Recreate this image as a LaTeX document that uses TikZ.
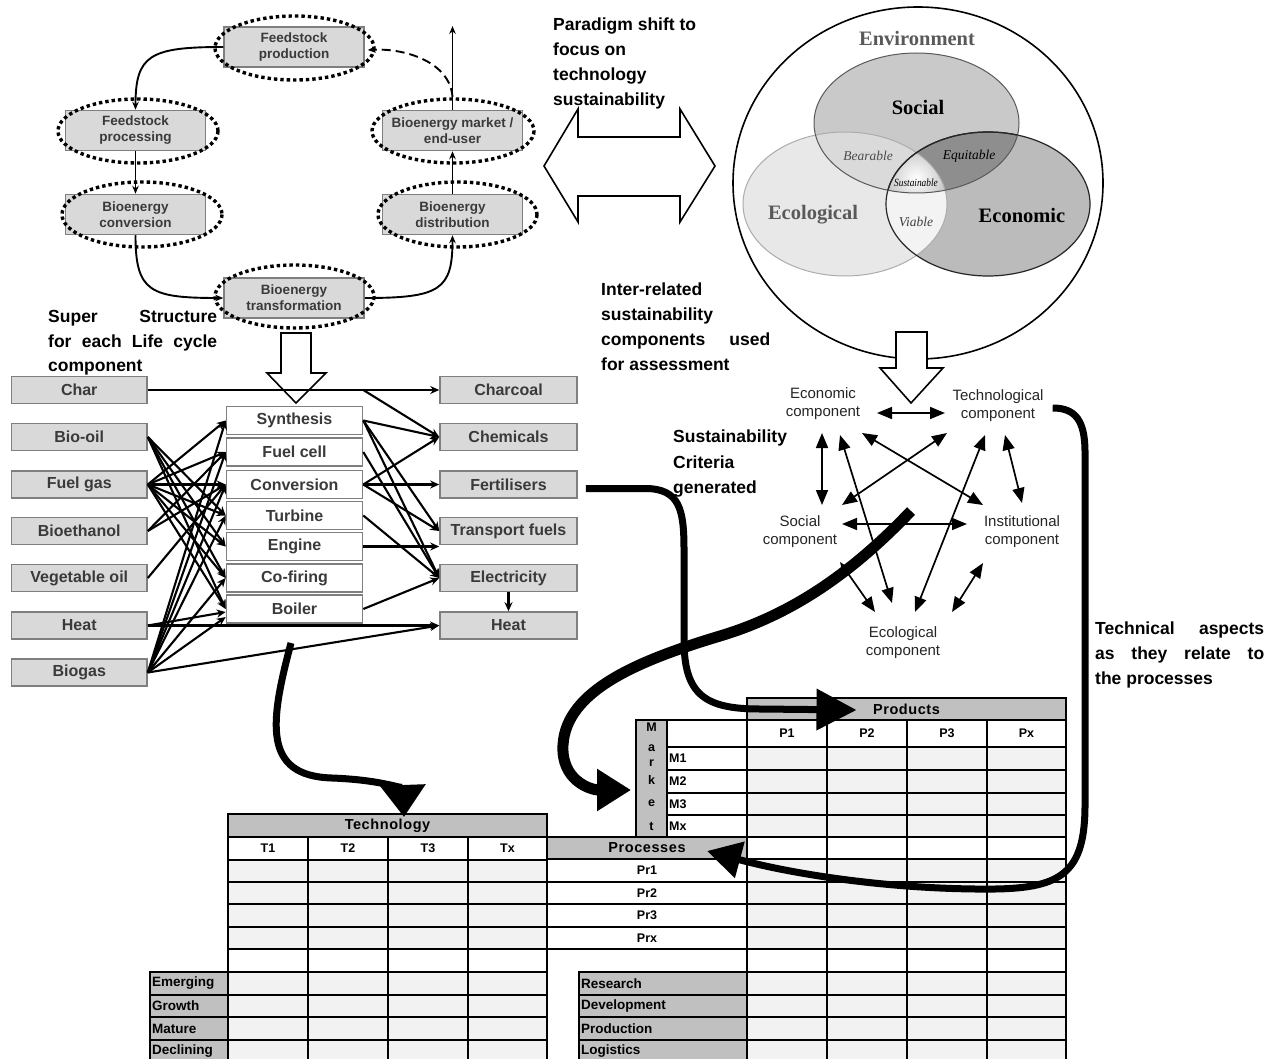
\documentclass[tikz,border=0pt]{standalone}
\usepackage{fontspec}
\setmainfont{Liberation Sans}
\newfontfamily\vennfont{Liberation Serif}
\usetikzlibrary{arrows.meta,calc}
\definecolor{boxgrey}{HTML}{D9D9D9}
\definecolor{edgegrey}{HTML}{7F7F7F}
\definecolor{hdrgrey}{HTML}{C0C0C0}
\definecolor{cellgrey}{HTML}{F2F2F2}
\definecolor{txtgrey}{HTML}{3A3A3A}
\definecolor{socfill}{HTML}{C9C9C9}
\definecolor{ecolfill}{HTML}{E8E8E8}
\definecolor{econfill}{HTML}{BBBBBB}
\definecolor{equifill}{HTML}{8E8E8E}
\definecolor{bearfill}{HTML}{DADADA}
\definecolor{viafill}{HTML}{F3F3F3}
\begin{document}
\begin{tikzpicture}[x=1pt,y=-1pt,
 lcbox/.style={draw=edgegrey, fill=boxgrey, line width=1.5pt, minimum width=140pt, minimum height=40pt, inner sep=0pt, align=center, text=txtgrey, font=\fontsize{13.5}{16}\selectfont\bfseries},
 lcdots/.style={line width=3.4pt, dash pattern=on 3.4pt off 3pt},
 lcarrow/.style={line width=1.9pt, -{Stealth[length=8pt,width=6.5pt]}},
 flowbox/.style={draw=edgegrey, fill=boxgrey, line width=1.6pt, minimum height=27pt, inner sep=0pt, text=txtgrey, font=\fontsize{16}{18}\selectfont\bfseries},
 inbox/.style={flowbox, minimum width=135.5pt},
 outbox/.style={flowbox, minimum width=137pt},
 techbox/.style={flowbox, fill=white, minimum width=136pt, minimum height=28pt},
 fan/.style={line width=2.1pt, -{Stealth[length=9pt,width=8pt]}},
 anno/.style={anchor=base west, inner sep=0pt, font=\fontsize{17.5}{21}\selectfont\bfseries},
 comp/.style={align=center, inner sep=0pt, text=black!85, font=\fontsize{15}{18}\selectfont},
 dbl/.style={line width=1.7pt, {Triangle[length=15pt,width=12pt]}-{Triangle[length=15pt,width=12pt]}},
 hollow/.style={draw=black, fill=white, line width=1.6pt, line join=miter},
 bigarrow/.style={line width=7pt, line cap=butt},
 tbl/.style={draw=black, line width=1.9pt},
 tblhdr/.style={inner sep=0pt, font=\fontsize{14.5}{16}\selectfont\bfseries\addfontfeatures{LetterSpace=4}},
 tblsub/.style={inner sep=0pt, font=\fontsize{12.5}{14}\selectfont\bfseries},
 rowlab/.style={anchor=west, inner sep=0pt, font=\fontsize{13.5}{15}\selectfont\bfseries},
 vennlab/.style={inner sep=0pt, font=\vennfont\fontsize{20.5}{22}\selectfont\bfseries},
 vennit/.style={inner sep=0pt, font=\vennfont\fontsize{13.5}{15}\selectfont\itshape},
]
\useasboundingbox (0,0) rectangle (1268,1059);
\fill[white] (0,0) rectangle (1268,1059);

%================ Life cycle =================
\node[lcbox] (fp) at (294,47) {Feedstock\\production};
\node[lcbox] (fproc) at (135.5,130.5) {Feedstock\\processing};
\node[lcbox] (bconv) at (135.5,214.5) {Bioenergy\\conversion};
\node[lcbox] (btrans) at (294,298) {Bioenergy\\transformation};
\node[lcbox] (bmark) at (452.5,130.5) {Bioenergy market /\\end-user};
\node[lcbox] (bdist) at (452.5,214.5) {Bioenergy\\distribution};
\draw[lcdots] (294.5,48) ellipse [x radius=79.5, y radius=32];
\draw[lcdots] (138,131) ellipse [x radius=80, y radius=32];
\draw[lcdots] (142,214.5) ellipse [x radius=80, y radius=32.5];
\draw[lcdots] (294.5,296.5) ellipse [x radius=79.5, y radius=31.5];
\draw[lcdots] (453,131) ellipse [x radius=81, y radius=32];
\draw[lcdots] (457.5,214.5) ellipse [x radius=79.5, y radius=32.5];
\draw[lcarrow] (fp.west) .. controls (150,47) and (135.5,55) .. (fproc.north);
\draw[lcarrow] (fproc.south) -- (bconv.north);
\draw[lcarrow] (bconv.south) .. controls (135.5,292) and (150,298) .. (btrans.west);
\draw[lcarrow] (btrans.east) .. controls (440,298) and (452.5,290) .. (bdist.south);
\draw[lcarrow] (bdist.north) -- (bmark.south);
\coordinate (mtop) at (452.5,26);
\draw[lcarrow] (bmark.north) -- (mtop);
\coordinate (dsplit) at (452.5,97);
\draw[lcarrow, dash pattern=on 9pt off 5pt] (dsplit) .. controls (450,62) and (405,48) .. ($(fp.east)+(3,3)$);

%================ annotations =================
\node[anno] (ss1) at (48,322) {\makebox[169pt][s]{Super Structure}};
\node[anno] (ss2) at (48,347) {\makebox[169pt][s]{for each Life cycle}};
\node[anno] (ss3) at (48,371) {component};
\node[anno] (ps1) at (553,31) {Paradigm shift to};
\node[anno] (ps2) at (553,56) {focus on};
\node[anno] (ps3) at (553,81) {technology};
\node[anno] (ps4) at (553,106) {sustainability};
\node[anno] (ir1) at (601,295) {Inter-related};
\node[anno] (ir2) at (601,320) {sustainability};
\node[anno] (ir3) at (601,345) {\makebox[169pt][s]{components used}};
\node[anno] (ir4) at (601,370) {for assessment};
\node[anno] (sc1) at (673,442) {Sustainability};
\node[anno] (sc2) at (673,468) {Criteria};
\node[anno] (sc3) at (673,493) {generated};
\node[anno] (ta1) at (1095,634) {\makebox[169pt][s]{Technical aspects}};
\node[anno] (ta2) at (1095,659) {\makebox[169pt][s]{as they relate to}};
\node[anno] (ta3) at (1095,684) {the processes};

% paradigm double hollow arrow
\draw[hollow] (544,166) -- (578,109) -- (578,137) -- (680,137) -- (680,109) -- (715,166) -- (680,222) -- (680,196) -- (578,196) -- (578,222) -- cycle;

%================ Venn =================
\draw[line width=1.6pt] (918,183) ellipse [x radius=185, y radius=176];
\fill[ecolfill] (845,204) ellipse [x radius=102, y radius=72];
\fill[econfill] (988,204) ellipse [x radius=102, y radius=72];
\fill[socfill] (916.5,123) ellipse [x radius=102.5, y radius=70];
\begin{scope}
 \clip (916.5,123) ellipse [x radius=102.5, y radius=70];
 \fill[bearfill] (845,204) ellipse [x radius=102, y radius=72];
 \fill[equifill] (988,204) ellipse [x radius=102, y radius=72];
\end{scope}
\begin{scope}
 \clip (845,204) ellipse [x radius=102, y radius=72];
 \fill[viafill] (988,204) ellipse [x radius=102, y radius=72];
 \clip (916.5,123) ellipse [x radius=102.5, y radius=70];
 \clip (988,204) ellipse [x radius=102, y radius=72];
 \shade[inner color=white, outer color=gray!85] (916,178) circle [radius=58];
\end{scope}
\draw[gray!65, line width=1pt] (845,204) ellipse [x radius=102, y radius=72];
\draw[black!85, line width=1.2pt] (988,204) ellipse [x radius=102, y radius=72];
\draw[black!65, line width=1pt] (916.5,123) ellipse [x radius=102.5, y radius=70];
\begin{scope}
 \clip (916.5,123) ellipse [x radius=102.5, y radius=70];
 \draw[black!85, line width=1.2pt] (988,204) ellipse [x radius=102, y radius=72];
\end{scope}
\node[vennlab, text=black!65] (venv) at (917,38) {Environment};
\node[vennlab, text=black] (vsoc) at (918,107) {Social};
\node[vennlab, text=black!65] (vecol) at (813,215) {Ecological};
\node[vennlab, text=black] (vecon) at (1022,215) {Economic};
\node[vennit, text=black!70] (vbear) at (868,156) {Bearable};
\node[vennit, text=black] (vequi) at (969,156) {Equitable};
\node[vennit, text=black, font=\vennfont\fontsize{11}{12}\selectfont\itshape, xscale=0.85] (vsust) at (916,183) {Sustainable};
\node[vennit, text=black!75] (vvia) at (916,222) {Viable};

% hollow down arrows
\draw[hollow] (896,332) -- (927,332) -- (927,368) -- (943,368) -- (911,403) -- (880,368) -- (896,368) -- cycle;
\draw[hollow] (281,333) -- (311,333) -- (311,373) -- (326,373) -- (296,403) -- (267,373) -- (281,373) -- cycle;

%================ flow network =================
\node[inbox] (inchar) at (79.25,390) {Char};
\node[inbox] (inbio) at (79.25,437) {Bio-oil};
\node[inbox] (infuel) at (79.25,484.5) {Fuel gas};
\node[inbox] (ineth) at (79.25,531) {Bioethanol};
\node[inbox] (inveg) at (79.25,578) {Vegetable oil};
\node[inbox] (inheat) at (79.25,625.5) {Heat};
\node[inbox] (inbiogas) at (79.25,672.5) {Biogas};

\node[techbox] (tsyn) at (294.5,420.5) {Synthesis};
\node[techbox] (tfc) at (294.5,452) {Fuel cell};
\node[techbox] (tconv) at (294.5,484.5) {Conversion};
\node[techbox] (ttur) at (294.5,515.5) {Turbine};
\node[techbox] (teng) at (294.5,546.5) {Engine};
\node[techbox] (tcof) at (294.5,578) {Co-firing};
\node[techbox] (tboi) at (294.5,609) {Boiler};

\node[outbox] (ochar) at (508.5,390) {Charcoal};
\node[outbox] (ochem) at (508.5,437) {Chemicals};
\node[outbox] (ofert) at (508.5,484.5) {Fertilisers};
\node[outbox] (otrans) at (508.5,531) {Transport fuels};
\node[outbox] (oelec) at (508.5,578) {Electricity};
\node[outbox] (oheat) at (508.5,625.5) {Heat};

% inputs -> technologies
\foreach \t in {ttur,teng,tcof,tboi} \draw[fan] (inbio.east) -- (\t.west);
\foreach \t in {tsyn,tfc,tconv,ttur,teng,tcof,tboi} \draw[fan] (infuel.east) -- (\t.west);
\foreach \t in {tfc,tconv} \draw[fan] (ineth.east) -- (\t.west);
\draw[fan] (inveg.east) -- (tconv.west);
\draw[fan] (inheat.east) -- ($(tboi.west)+(0,3)$);
\foreach \t in {tsyn,tfc,tconv,ttur,tcof} \draw[fan] (inbiogas.east) -- (\t.west);
\draw[fan] (inbiogas.east) -- ($(tboi.west)+(0,8)$);
% technologies -> products
\draw[fan] (inchar.east) -- (ochar.west);
\draw[fan] (tsyn.east |- inchar.east) -- (ochem.west);
\foreach \o in {ochem,otrans,oelec} \draw[fan] (tsyn.east) -- (\o.west);
\draw[fan] (tfc.east) -- (oelec.west);
\foreach \o in {ochem,ofert,otrans} \draw[fan] (tconv.east) -- (\o.west);
\draw[fan] (ttur.east) -- (oelec.west);
\draw[fan] (teng.east) -- (teng.east -| oelec.west);
\draw[fan] (tboi.east) -- (oelec.west);
\draw[fan] (oelec.south) -- (oheat.north);
\draw[fan] (inheat.east) -- (oheat.west);
\draw[fan] (inbiogas.east) -- (oheat.west);

%================ sustainability components =================
\node[comp] (cecon) at (823,404) {Economic\\component};
\node[comp] (ctech) at (998,406) {Technological\\component};
\node[comp] (csoc) at (800,532) {Social\\component};
\node[comp] (cinst) at (1022,532) {Institutional\\component};
\node[comp] (cecol) at (903,643) {Ecological\\component};
\draw[dbl] ($(cecon)+(54,9)$) -- ($(ctech)+(-53,7)$);
\draw[dbl] ($(cecon)+(-1,29)$) -- ($(csoc)+(22,-27)$);
\draw[dbl] ($(cecon)+(17,31)$) -- ($(cecol)+(-11,-40)$);
\draw[dbl] ($(cecon)+(39,29)$) -- ($(cinst)+(-39,-27)$);
\draw[dbl] ($(ctech)+(-51,27)$) -- ($(csoc)+(42,-27)$);
\draw[dbl] ($(ctech)+(-13,29)$) -- ($(cecol)+(12,-31)$);
\draw[dbl] ($(ctech)+(7,29)$) -- ($(cinst)+(0,-29)$);
\draw[dbl] ($(csoc)+(42,-8)$) -- ($(cinst)+(-55,-8)$);
\draw[dbl] ($(csoc)+(40,30)$) -- ($(cecol)+(-28,-31)$);
\draw[dbl] ($(cinst)+(-39,31)$) -- ($(cecol)+(49,-31)$);

%================ Technology table =================
\filldraw[fill=hdrgrey,tbl] (228,814) rectangle (547,837);
\node[tblhdr] (techhdr) at (387.5,825.5) {Technology};
\foreach \xa/\xb/\lab [count=\i] in {228/308/T1,308/388/T2,388/468/T3,468/547/Tx} {
  \filldraw[fill=white,tbl] (\xa,837) rectangle (\xb,860);
  \node[tblsub] (tcol\i) at ({(\xa+\xb)/2},848.5) {\lab};
  \foreach \ya/\yb in {860/882,882/904,904/927,927/949,972/995,995/1017,1017/1040,1040/1062}
    \filldraw[fill=cellgrey,tbl] (\xa,\ya) rectangle (\xb,\yb);
  \filldraw[fill=white,tbl] (\xa,949) rectangle (\xb,972);
}
\foreach \ya/\yb/\lab [count=\i] in {972/995/Emerging,995/1017/Growth,1017/1040/Mature,1040/1062/Declining} {
  \filldraw[fill=hdrgrey,tbl] (150,\ya) rectangle (228,\yb);
  \node[rowlab] (stage\i) at (152,{(\ya+\yb)/2}) {\lab};
}
% Processes
\filldraw[fill=hdrgrey,tbl] (547,837) rectangle (747,859);
\node[tblhdr] (prochdr) at (647,848) {Processes};
\foreach \ya/\yb/\lab [count=\i] in {859/882/Pr1,882/904/Pr2,904/927/Pr3,927/949/Prx} {
  \filldraw[fill=white,tbl] (547,\ya) rectangle (747,\yb);
  \node[tblsub] (pr\i) at (647,{(\ya+\yb)/2}) {\lab};
}
\draw[tbl] (547,949) -- (547,1062);
\foreach \ya/\yb/\lab [count=\i] in {972/995/Research,995/1017/Development,1017/1040/Production,1040/1062/Logistics} {
  \filldraw[fill=hdrgrey,tbl] (579,\ya) rectangle (747,\yb);
  \node[rowlab] (phase\i) at (581,{(\ya+\yb)/2}) {\lab};
}
% Products
\filldraw[fill=hdrgrey,tbl] (747,698) rectangle (1066,720);
\node[tblhdr] (prodhdr) at (906.5,709) {Products};
\foreach \xa/\xb/\lab [count=\i] in {747/827/P1,827/907/P2,907/987/P3,987/1066/Px} {
  \filldraw[fill=white,tbl] (\xa,720) rectangle (\xb,747);
  \node[tblsub] (pcol\i) at ({(\xa+\xb)/2},733.5) {\lab};
  \foreach \ya/\yb in {747/770,770/793,793/815,815/837,859/882,882/904,904/927,927/949,972/995,995/1017,1017/1040,1040/1062}
    \filldraw[fill=cellgrey,tbl] (\xa,\ya) rectangle (\xb,\yb);
  \foreach \ya/\yb in {837/859,949/972}
    \filldraw[fill=white,tbl] (\xa,\ya) rectangle (\xb,\yb);
}
% Market
\node[tbl, fill=hdrgrey, minimum width=31pt, minimum height=117pt, inner sep=0pt] (mktcol) at (651.5,778.5) {};
\filldraw[fill=white,tbl] (667,720) rectangle (747,747);
\foreach \ya/\yb/\lab [count=\i] in {747/770/M1,770/793/M2,793/815/M3,815/837/Mx} {
  \filldraw[fill=white,tbl] (667,\ya) rectangle (747,\yb);
  \node[tblsub, anchor=west] (mrow\i) at (669,{(\ya+\yb)/2}) {\lab};
}
\foreach \y/\l [count=\i] in {727/M,748/a,763/r,780/k,803/e,826/t}
  \node[tblsub] (mk\i) at (651.5,\y) {\l};

%================ thick arrows =================
\coordinate (a1s) at (291,643);
\draw[bigarrow,-{Triangle[length=32pt,width=44pt]}] (a1s) .. controls (270,722) and (262,776) .. (332,778) .. controls (385,780) and (403,790) .. ($(techhdr)+(16.5,-8.5)$);
\coordinate (a2s) at ($(ofert.east)+(8,4)$);
\draw[bigarrow,-{Triangle[length=40pt,width=40pt]}] (a2s) -- (645,488.5) .. controls (680,488.5) and (684,510) .. (684,550) -- (684,640) .. controls (684,695) and (705,709) .. (760,709) -- ($(prodhdr)+(-50,1)$);
\coordinate (a3s) at (911,511);
\draw[line width=11pt,-{Triangle[length=34pt,width=40pt]}] (a3s) .. controls (850,575) and (790,615) .. (720,636) .. controls (640,660) and (566,690) .. (563,745) .. controls (561,780) and (590,790) .. ($(mktcol.west)+(-4,11.5)$);
\coordinate (a4s) at ($(ctech.east)+(9,2)$);
\draw[bigarrow,-{Triangle[length=34pt,width=36pt]}] (a4s) .. controls (1075,408) and (1085,420) .. (1085,452) -- (1085,805) .. controls (1085,872) and (1062,888) .. (995,889) .. controls (900,890) and (800,876) .. ($(prochdr)+(60,3)$);
\end{tikzpicture}
\end{document}
